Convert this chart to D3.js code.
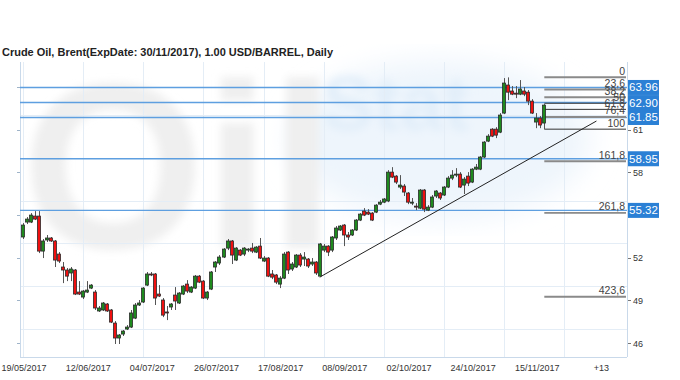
<!DOCTYPE html>
<html>
<head>
<meta charset="utf-8">
<script src="https://cdn.jsdelivr.net/npm/d3@7"></script>
<style>
  body { margin: 0; background: #fff; }
  svg { display: block; font-family: "Liberation Sans", Arial, sans-serif; }
</style>
</head>
<body>
<svg id="chart" width="680" height="380"></svg>
<script>
// Brent daily candles, 19/05/2017 .. 17/11/2017 (trading days only)
const opens = [
  53.45, 54.50, 54.50, 54.92, 54.92, 52.46, 53.24, 53.38, 53.17, 52.25,
  51.34, 51.13, 50.92, 51.13, 49.58, 49.23, 49.58, 49.86, 49.58, 48.25,
  48.32, 48.74, 48.32, 47.40, 46.35, 46.63, 46.98, 47.12, 47.75, 48.67,
  48.88, 50.07, 50.85, 50.85, 49.44, 49.02, 48.18, 48.53, 49.37, 48.81,
  49.44, 50.14, 49.58, 49.86, 50.70, 50.35, 49.16, 49.79, 51.34, 51.62,
  52.04, 52.67, 53.17, 51.83, 52.53, 52.25, 52.53, 52.67, 52.39, 52.81,
  51.76, 51.97, 50.85, 50.78, 50.14, 50.56, 52.39, 51.20, 51.34, 52.18,
  51.90, 51.90, 51.55, 51.69, 50.70, 52.53, 52.81, 52.53, 53.38, 53.94,
  54.29, 53.59, 53.59, 53.94, 54.64, 55.27, 55.20, 55.13, 55.20, 55.76,
  55.90, 55.98, 58.01, 57.73, 56.96, 57.03, 56.54, 55.83, 55.62, 55.48,
  56.75, 55.34, 55.55, 56.33, 56.54, 56.40, 56.96, 57.59, 57.80, 57.87,
  57.10, 57.73, 57.31, 58.22, 58.22, 59.07, 60.19, 61.03, 61.03, 60.82,
  62.16, 64.13, 63.71, 63.56, 63.49, 63.71, 63.63, 63.00, 61.53, 61.81,
  61.46
];
const highs = [
  54.43, 54.85, 55.13, 55.27, 55.27, 53.31, 53.59, 53.45, 53.24, 52.39,
  51.69, 51.27, 51.34, 51.20, 50.35, 49.72, 50.35, 50.14, 49.72, 48.60,
  48.88, 48.81, 48.39, 47.54, 46.63, 46.91, 47.26, 48.32, 48.81, 49.02,
  49.93, 50.99, 50.99, 50.92, 50.07, 49.16, 48.60, 48.81, 49.93, 49.58,
  50.07, 50.42, 50.00, 50.78, 50.78, 50.42, 49.65, 51.06, 51.76, 52.18,
  52.67, 53.31, 53.24, 52.74, 52.60, 52.74, 52.67, 53.03, 52.81, 53.38,
  52.11, 52.04, 51.13, 50.85, 50.70, 52.39, 52.46, 51.69, 52.25, 52.32,
  52.39, 51.97, 51.97, 51.76, 53.03, 52.96, 52.88, 53.52, 54.22, 54.29,
  54.36, 53.80, 54.01, 54.71, 55.13, 55.48, 55.41, 55.20, 55.76, 56.05,
  56.19, 58.15, 58.36, 57.80, 57.80, 57.17, 56.61, 56.19, 55.83, 56.82,
  56.82, 55.69, 56.40, 56.75, 56.61, 57.03, 57.73, 58.15, 58.29, 58.01,
  57.66, 58.01, 58.29, 58.58, 59.14, 60.19, 60.68, 61.10, 61.17, 62.16,
  64.62, 64.67, 64.06, 64.06, 64.48, 63.99, 63.78, 63.14, 62.16, 61.95,
  62.79
];
const lows = [
  53.31, 54.36, 54.43, 54.64, 52.32, 51.97, 53.10, 53.10, 51.34, 51.62,
  50.21, 50.35, 50.35, 49.37, 49.37, 49.09, 49.51, 49.79, 48.32, 48.18,
  48.25, 48.18, 47.40, 45.93, 45.93, 46.49, 46.91, 47.05, 47.68, 48.60,
  48.81, 50.00, 50.70, 48.67, 49.23, 47.82, 47.61, 48.32, 48.32, 48.74,
  49.37, 49.51, 49.51, 49.79, 50.21, 49.09, 49.02, 49.72, 50.99, 51.48,
  51.97, 52.53, 51.55, 51.76, 52.11, 52.11, 52.39, 52.32, 52.32, 51.90,
  51.69, 50.63, 50.49, 50.14, 49.86, 50.49, 50.85, 51.06, 51.27, 51.34,
  51.41, 51.27, 51.41, 50.78, 50.63, 52.39, 52.11, 52.39, 53.24, 53.87,
  52.81, 53.24, 53.52, 53.87, 54.57, 54.92, 54.99, 54.57, 55.13, 55.69,
  55.83, 55.90, 57.59, 57.17, 56.82, 56.33, 55.76, 55.69, 55.34, 55.41,
  55.20, 55.27, 55.48, 56.19, 56.05, 56.33, 56.89, 57.45, 57.66, 56.89,
  56.47, 57.03, 57.24, 58.15, 58.15, 59.00, 60.12, 60.47, 60.40, 60.75,
  62.09, 63.07, 63.42, 63.21, 63.42, 63.35, 62.72, 62.09, 61.10, 61.10,
  61.03
];
const closes = [
  54.29, 54.71, 54.99, 54.71, 52.46, 53.17, 53.38, 53.17, 51.83, 51.76,
  51.13, 50.70, 51.20, 49.44, 49.44, 49.65, 49.72, 50.07, 48.46, 48.46,
  48.81, 48.25, 47.47, 46.35, 46.56, 46.84, 47.12, 48.11, 48.67, 48.81,
  49.86, 50.85, 50.78, 49.16, 49.30, 47.96, 48.11, 48.74, 48.95, 49.51,
  50.00, 49.65, 49.93, 50.70, 50.28, 49.16, 49.58, 50.99, 51.69, 52.04,
  52.60, 53.17, 52.18, 52.67, 52.18, 52.67, 52.60, 52.46, 52.74, 51.97,
  51.97, 50.70, 50.63, 50.28, 50.56, 52.25, 51.13, 51.55, 52.18, 51.48,
  52.04, 51.41, 51.69, 50.92, 52.96, 52.81, 52.39, 53.45, 54.08, 54.22,
  53.59, 53.45, 53.94, 54.64, 55.06, 54.99, 55.06, 54.64, 55.69, 55.90,
  56.12, 58.01, 57.66, 57.31, 57.10, 56.61, 55.90, 55.90, 55.55, 56.75,
  55.41, 55.55, 56.26, 56.68, 56.19, 56.96, 57.59, 57.80, 57.87, 56.96,
  57.52, 57.24, 58.22, 58.36, 59.07, 60.12, 60.54, 60.54, 60.61, 62.02,
  64.27, 63.63, 63.49, 63.49, 63.85, 63.49, 63.00, 62.16, 61.81, 61.32,
  62.72
];

const dateLabels = ["19/05/2017", "12/06/2017", "04/07/2017", "26/07/2017", "17/08/2017",
                    "08/09/2017", "02/10/2017", "24/10/2017", "15/11/2017", "+13"];
const priceTicks = [46, 49, 52, 55, 58, 61, 64];
const gridPrices = [47, 50, 53, 56, 59, 62];
const levels = [63.96, 62.90, 61.85, 58.95, 55.32];
const fibRatios = [0, 23.6, 38.2, 50, 61.8, 76.4, 100, 161.8, 261.8, 423.6];
const fibLabels = ["0", "23,6", "38,2", "50", "61,8", "76,4", "100", "161,8", "261,8", "423,6"];
const trendIdx = [74, 143];
const trendPrice = [50.63, 61.60];

const title = "Crude Oil, Brent(ExpDate: 30/11/2017), 1.00 USD/BARREL, Daily";

// layout
const plotL = 20, plotR = 627, plotT = 62, plotB = 357;
const svg = d3.select("#chart");

const x = d3.scaleLinear().domain([0, 150]).range([23, 624.5]);
const y = d3.scaleLinear().domain([46, 64]).range([343, 86.9]);

// watermark
const defs = svg.append("defs");
defs.append("filter").attr("id", "blur").append("feGaussianBlur").attr("stdDeviation", 4);
defs.append("filter").attr("id", "blur2").append("feGaussianBlur").attr("stdDeviation", 14);
svg.append("ellipse")
  .attr("cx", 440).attr("cy", 140).attr("rx", 150).attr("ry", 80)
  .attr("fill", "#eef5fc").attr("filter", "url(#blur2)");
svg.append("text")
  .attr("x", 22).attr("y", 248)
  .attr("font-size", 235).attr("font-weight", "bold")
  .attr("fill", "#efefef").attr("filter", "url(#blur)")
  .text("Oil");
svg.append("text")
  .attr("x", 322).attr("y", 130)
  .attr("font-size", 78).attr("font-weight", "bold")
  .attr("fill", "#e2eef9").attr("filter", "url(#blur)")
  .text("Stat");

// grid
const gridIdx = d3.range(0, 150, 15);
svg.append("g").selectAll("line").data(gridIdx).enter().append("line")
  .attr("x1", d => Math.round(x(d)) + 0.5).attr("x2", d => Math.round(x(d)) + 0.5)
  .attr("y1", plotT).attr("y2", plotB)
  .attr("stroke", "#e4edf6").attr("stroke-width", 1);
svg.append("g").selectAll("line").data(gridPrices).enter().append("line")
  .attr("x1", plotL).attr("x2", plotR)
  .attr("y1", d => Math.round(y(d)) + 0.5).attr("y2", d => Math.round(y(d)) + 0.5)
  .attr("stroke", "#e4edf6").attr("stroke-width", 1);

// axes frame
const axisCol = "#c9d9ea";
svg.append("line").attr("x1", plotL + 0.5).attr("x2", plotL + 0.5).attr("y1", plotT).attr("y2", plotB)
  .attr("stroke", axisCol);
svg.append("line").attr("x1", plotR + 0.5).attr("x2", plotR + 0.5).attr("y1", plotT).attr("y2", plotB)
  .attr("stroke", axisCol);
svg.append("line").attr("x1", plotL).attr("x2", plotR).attr("y1", plotB + 0.5).attr("y2", plotB + 0.5)
  .attr("stroke", axisCol);

// left ticks
svg.append("g").selectAll("line").data(priceTicks).enter().append("line")
  .attr("x1", plotL - 3).attr("x2", plotL)
  .attr("y1", d => Math.round(y(d)) + 0.5).attr("y2", d => Math.round(y(d)) + 0.5)
  .attr("stroke", "#9fb4c9");

// right axis ticks + labels (hidden under level boxes)
svg.append("g").selectAll("line").data(priceTicks).enter().append("line")
  .attr("x1", plotR + 1).attr("x2", plotR + 4)
  .attr("y1", d => Math.round(y(d)) + 0.5).attr("y2", d => Math.round(y(d)) + 0.5)
  .attr("stroke", "#777");
svg.append("g").selectAll("text")
  .data(priceTicks.filter(t => !levels.some(l => Math.abs(l - t) < 0.6)))
  .enter().append("text")
  .attr("x", 633).attr("y", d => y(d) + 3.5)
  .attr("font-size", 9).attr("fill", "#333")
  .text(d => d);

// date labels
svg.append("g").selectAll("text").data(dateLabels).enter().append("text")
  .attr("x", (d, i) => x(i * 16) + 1).attr("y", 371)
  .attr("text-anchor", "middle")
  .attr("font-size", 9).attr("fill", "#333")
  .text(d => d);

// horizontal levels
svg.append("g").selectAll("line").data(levels).enter().append("line")
  .attr("x1", plotL).attr("x2", plotR)
  .attr("y1", d => y(d)).attr("y2", d => y(d))
  .attr("stroke", "#5e9fe0").attr("stroke-width", 1.4);

// fibonacci from swing high to following low
const hiIdx = d3.maxIndex(highs);
const fibHigh = highs[hiIdx];
const fibLow = d3.min(lows.slice(hiIdx));
const lastX = x(closes.length - 1);
const fib = svg.append("g");
fibRatios.forEach((r, i) => {
  const v = fibHigh - (fibHigh - fibLow) * r / 100;
  const thick = [0, 1, 2, 5, 7, 9].includes(i);
  fib.append("line")
    .attr("x1", lastX).attr("x2", plotR - 1)
    .attr("y1", y(v)).attr("y2", y(v))
    .attr("stroke", thick ? "#8a8a8a" : "#333")
    .attr("stroke-width", thick ? 2 : 1);
  fib.append("text")
    .attr("x", plotR - 2).attr("y", y(v) - 2.5)
    .attr("text-anchor", "end")
    .attr("font-size", 10.5).attr("fill", "#444")
    .text(fibLabels[i]);
});

// trend line
svg.append("line")
  .attr("x1", x(trendIdx[0])).attr("y1", y(trendPrice[0]))
  .attr("x2", x(trendIdx[1])).attr("y2", y(trendPrice[1]))
  .attr("stroke", "#222").attr("stroke-width", 1);

// candles
const idx = d3.range(closes.length);
const cg = svg.append("g");
cg.selectAll("line").data(idx).enter().append("line")
  .attr("x1", i => Math.round(x(i)) + 0.5).attr("x2", i => Math.round(x(i)) + 0.5)
  .attr("y1", i => y(highs[i])).attr("y2", i => y(lows[i]))
  .attr("stroke", "#555").attr("stroke-width", 1);
cg.selectAll("rect").data(idx).enter().append("rect")
  .attr("x", i => Math.round(x(i)) - 1.5)
  .attr("y", i => y(Math.max(opens[i], closes[i])))
  .attr("width", 3)
  .attr("height", i => Math.max(1, Math.abs(y(opens[i]) - y(closes[i]))))
  .attr("fill", i => closes[i] >= opens[i] ? "#1e8a1e" : "#f01010")
  .attr("stroke", "#2a2a2a").attr("stroke-width", 0.8);

// level boxes
const boxes = svg.append("g");
levels.forEach(v => {
  boxes.append("rect")
    .attr("x", 628).attr("y", y(v) - 7.5)
    .attr("width", 31).attr("height", 15)
    .attr("fill", "#2b80d5");
  boxes.append("text")
    .attr("x", 643.5).attr("y", y(v) + 4)
    .attr("text-anchor", "middle")
    .attr("font-size", 11.5).attr("fill", "#fff")
    .text(v.toFixed(2));
});

// title
svg.append("text")
  .attr("x", 2).attr("y", 56)
  .attr("font-size", 11).attr("font-weight", "bold").attr("fill", "#222")
  .attr("textLength", 331).attr("lengthAdjust", "spacingAndGlyphs")
  .text(title);
</script>
</body>
</html>
